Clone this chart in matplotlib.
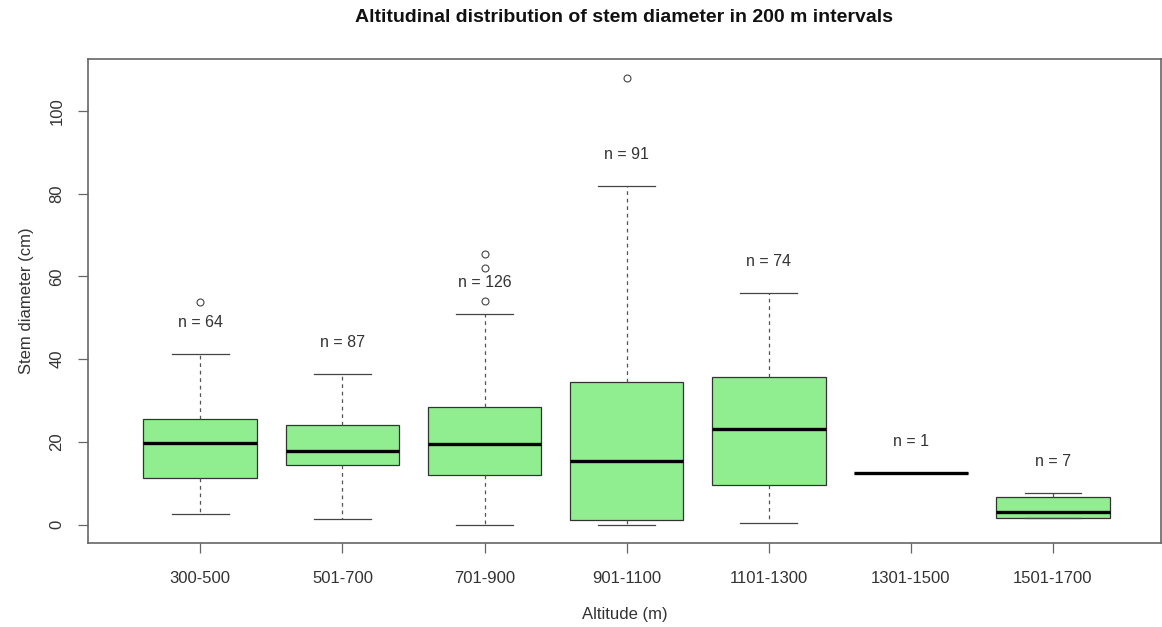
import matplotlib
matplotlib.use("Agg")
import matplotlib.pyplot as plt

categories = ["300-500", "501-700", "701-900", "901-1100", "1101-1300", "1301-1500", "1501-1700"]
n_counts = [64, 87, 126, 91, 74, 1, 7]
whislo = [2.7, 1.4, 0.0, 0.0, 0.4, 12.6, 1.6]
q1 = [11.4, 14.4, 12.1, 1.1, 9.6, 12.6, 1.6]
med = [19.8, 17.9, 19.4, 15.5, 23.1, 12.6, 3.2]
q3 = [25.6, 24.1, 28.5, 34.4, 35.8, 12.6, 6.6]
whishi = [41.2, 36.5, 50.9, 81.9, 55.9, 12.6, 7.7]
fliers = [[53.8], [], [54.1, 62.0, 65.5], [107.9], [], [], []]
yticks = [0, 20, 40, 60, 80, 100]

plt.rcParams['font.family'] = ['Liberation Sans', 'DejaVu Sans']
txt = '#333333'

fig = plt.figure(figsize=(11.62, 6.27), dpi=100)
ax = fig.add_axes([88/1162, 1-543/627, (1161-88)/1162, (543-59)/627])

stats = []
for i in range(len(categories)):
    stats.append(dict(whislo=whislo[i], q1=q1[i], med=med[i], q3=q3[i],
                      whishi=whishi[i], fliers=fliers[i], label=categories[i]))

pos = list(range(1, len(categories) + 1))
ax.bxp(stats, positions=pos, widths=0.8, capwidths=0.4, patch_artist=True,
       showfliers=True,
       boxprops=dict(facecolor='#90EE90', edgecolor='#333333', linewidth=0.9),
       medianprops=dict(color='black', linewidth=2.4, solid_capstyle='butt'),
       whiskerprops=dict(color='#555555', linewidth=0.9, linestyle=(0, (3, 3))),
       capprops=dict(color='#444444', linewidth=0.9),
       flierprops=dict(marker='o', markersize=5, markerfacecolor='none',
                       markeredgecolor='#444444', markeredgewidth=0.8))

for i, n in enumerate(n_counts):
    ax.text(pos[i], whishi[i] + 7.6, f"n = {n}", ha='center', va='center',
            fontsize=11.5, color=txt)

ax.set_xlim(0.21, 7.76)
ax.set_ylim(-4.4, 112.5)
ax.set_yticks(yticks)
ax.set_yticklabels([str(v) for v in yticks], rotation=90, va='center')
ax.set_xticks(pos)
ax.set_xticklabels(categories)

for s in ax.spines.values():
    s.set_color('#666666')
    s.set_linewidth(1.2)
ax.tick_params(axis='both', colors='#666666', length=7, width=0.9, labelsize=12,
               labelcolor=txt)
ax.tick_params(axis='x', pad=13)
ax.tick_params(axis='y', pad=10)

ax.set_xlabel("Altitude (m)", fontsize=12, color=txt, labelpad=15)
ax.set_ylabel("Stem diameter (cm)", fontsize=12, color=txt, labelpad=11)
fig.text(624/1162, 1-17/627, "Altitudinal distribution of stem diameter in 200 m intervals",
         ha='center', va='center', fontsize=14, fontweight='bold', color='#111111')

fig.savefig("out.png", dpi=100)
